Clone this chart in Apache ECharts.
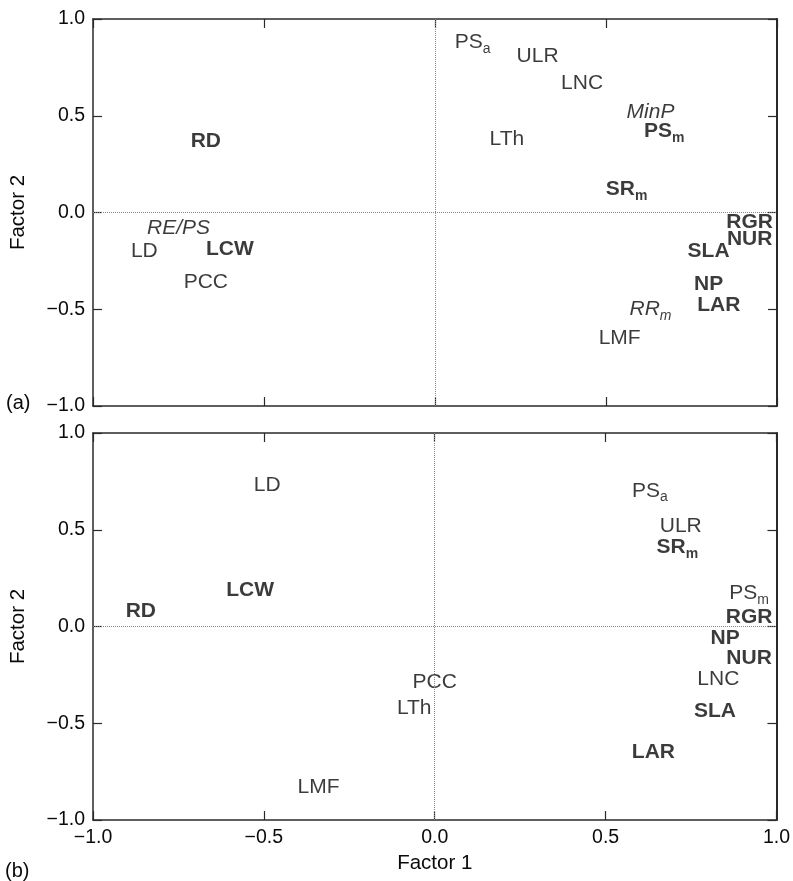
<!DOCTYPE html>
<html><head><meta charset="utf-8">
<script src="https://cdn.jsdelivr.net/npm/echarts@6/dist/echarts.min.js"></script>
<style>html,body{margin:0;padding:0;background:#fff}#c{width:793px;height:881px}</style>
</head><body><div id="c"></div>
<script>
// Panel (a)
const labelsA = ['PS_a','ULR','LNC','MinP','PS_m','LTh','SR_m','RGR','NUR','SLA','NP','LAR','RR_m','LMF','RD','RE/PS','LD','LCW','PCC'];
const xA = [0.11,0.30,0.43,0.63,0.67,0.21,0.56,0.92,0.92,0.80,0.80,0.83,0.63,0.54,-0.67,-0.75,-0.85,-0.60,-0.67];
const yA = [0.88,0.81,0.67,0.52,0.42,0.38,0.12,-0.05,-0.14,-0.20,-0.37,-0.48,-0.50,-0.65,0.37,-0.08,-0.20,-0.19,-0.36];
const boldA = ['PS_m','SR_m','RGR','NUR','SLA','NP','LAR','RD','LCW'];
const italicA = ['MinP','RR_m','RE/PS'];
// Panel (b)
const labelsB = ['LD','LCW','RD','LMF','PS_a','ULR','SR_m','PS_m','RGR','NP','NUR','LNC','SLA','LAR','PCC','LTh'];
const xB = [-0.49,-0.54,-0.86,-0.34,0.63,0.72,0.71,0.92,0.92,0.85,0.92,0.83,0.82,0.64,0.00,-0.06];
const yB = [0.73,0.19,0.08,-0.83,0.70,0.52,0.41,0.17,0.05,-0.06,-0.165,-0.27,-0.44,-0.65,-0.29,-0.42];
const boldB = ['LCW','RD','SR_m','RGR','NP','NUR','SLA','LAR'];
const italicB = [];
// Axes
const tickValues = [-1, -0.5, 0, 0.5, 1];
const tickLabels = ['\u22121.0', '\u22120.5', '0.0', '0.5', '1.0'];
const panelTags = ['(a)', '(b)'];
const xTitle = 'Factor 1';
const yTitle = 'Factor 2';

const FONT = '"Liberation Sans", Arial, Helvetica, sans-serif';
const INK = '#0a0a0a';
const AX = '#2a2a2a';

function tickFmt(v) {
  const i = tickValues.findIndex(t => Math.abs(t - v) < 1e-9);
  return i >= 0 ? tickLabels[i] : '';
}
function fmtLabel(name, bolds, italics) {
  const k = bolds.includes(name) ? 'b' : italics.includes(name) ? 'i' : 'n';
  const parts = name.split('_');
  let s = '{' + k + '|' + parts[0] + '}';
  if (parts[1]) s += '{' + k + 's|' + parts[1] + '}';
  return s;
}
const mainStyle = {fontSize: 21, lineHeight: 24, verticalAlign: 'top', color: INK, fontFamily: FONT};
const subStyle = {fontSize: 14, verticalAlign: 'top', padding: [10, 0, 0, 0], color: INK, fontFamily: FONT};
const rich = {
  n: Object.assign({}, mainStyle),
  b: Object.assign({}, mainStyle, {fontWeight: 'bold'}),
  i: Object.assign({}, mainStyle, {fontStyle: 'italic'}),
  ns: Object.assign({}, subStyle),
  bs: Object.assign({}, subStyle, {fontWeight: 'bold'}),
  is: Object.assign({}, subStyle, {fontStyle: 'italic'})
};

const grids = [
  {left: 93, top: 19, width: 684, height: 387},
  {left: 93, top: 433, width: 684, height: 387}
];
const axisLine = {show: true, onZero: false, lineStyle: {color: AX, width: 1.5}};
const axisTick = {show: true, inside: true, length: 9, lineStyle: {color: AX, width: 1.2}};

const xAxes = [], yAxes = [];
grids.forEach((g, gi) => {
  xAxes.push({
    type: 'value', gridIndex: gi, position: 'bottom', min: -1, max: 1, interval: 0.5,
    axisLine, axisTick, splitLine: {show: false},
    axisLabel: {show: gi === 1, formatter: tickFmt, margin: 8, fontSize: 19.5, color: INK, fontFamily: FONT},
    name: gi === 1 ? xTitle : '', nameLocation: 'middle', nameGap: 33,
    nameTextStyle: {fontSize: 20.5, color: INK, fontFamily: FONT}
  });
  xAxes.push({
    type: 'value', gridIndex: gi, position: 'top', min: -1, max: 1, interval: 0.5,
    axisLine, axisTick, splitLine: {show: false}, axisLabel: {show: false}
  });
  yAxes.push({
    type: 'value', gridIndex: gi, position: 'left', min: -1, max: 1, interval: 0.5,
    axisLine, axisTick, splitLine: {show: false},
    axisLabel: {show: true, formatter: tickFmt, margin: 8, fontSize: 19.5, color: INK, fontFamily: FONT},
    name: yTitle, nameLocation: 'middle', nameGap: 64, nameRotate: 90,
    nameTextStyle: {fontSize: 20.5, color: INK, fontFamily: FONT}
  });
  yAxes.push({
    type: 'value', gridIndex: gi, position: 'right', min: -1, max: 1, interval: 0.5,
    axisLine: {show: true, onZero: false, lineStyle: {color: AX, width: 2}}, axisTick, splitLine: {show: false}, axisLabel: {show: false}
  });
});

function makeSeries(labels, xs, ys, bolds, italics, gi) {
  return {
    type: 'scatter', xAxisIndex: gi * 2, yAxisIndex: gi * 2,
    symbolSize: 1, itemStyle: {color: 'rgba(0,0,0,0)'},
    data: labels.map((l, i) => [xs[i], ys[i], l]),
    label: {
      show: true, position: 'inside', offset: [0, 1.5],
      formatter: p => fmtLabel(p.data[2], bolds, italics),
      rich
    },
    markLine: {
      silent: true, symbol: ['none', 'none'], animation: false,
      label: {show: false},
      lineStyle: {type: 'dotted', color: '#888', width: 1},
      data: [{xAxis: 0}, {yAxis: 0}]
    },
    animation: false
  };
}

const chart = echarts.init(document.getElementById('c'), null, {renderer: 'canvas'});
chart.setOption({
  backgroundColor: '#fff',
  animation: false,
  grid: grids,
  xAxis: xAxes,
  yAxis: yAxes,
  series: [
    makeSeries(labelsA, xA, yA, boldA, italicA, 0),
    makeSeries(labelsB, xB, yB, boldB, italicB, 1)
  ],
  graphic: [
    {type: 'text', left: 6, top: 393, style: {text: panelTags[0], fontSize: 20, fill: INK, fontFamily: FONT}},
    {type: 'text', left: 5, top: 861, style: {text: panelTags[1], fontSize: 20, fill: INK, fontFamily: FONT}}
  ]
});
</script></body></html>
